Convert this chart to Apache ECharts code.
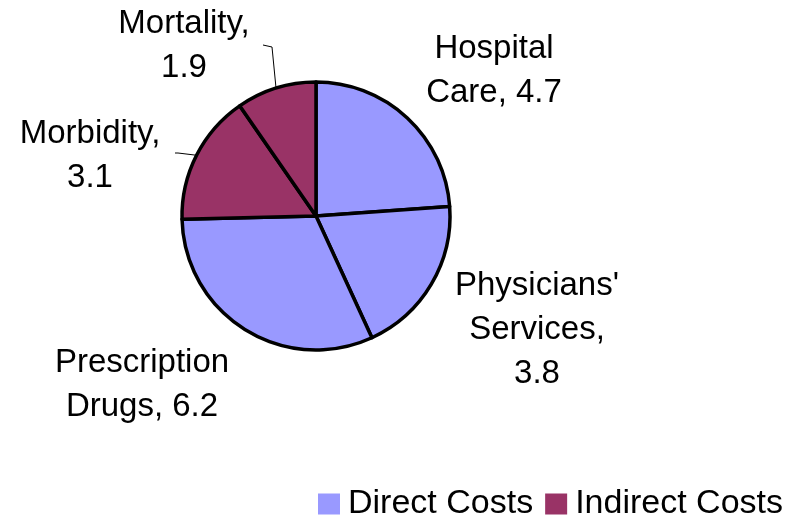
<!DOCTYPE html>
<html>
<head>
<meta charset="utf-8">
<script src="https://cdn.jsdelivr.net/npm/echarts@6/dist/echarts.min.js"></script>
<style>
    html, body { margin: 0; padding: 0; background: #fff; }
    #chart { width: 789px; height: 531px; }
</style>
</head>
<body>
<div id="chart"></div>
<script>
(function () {
    // 数据
    const categories = ['Hospital Care', "Physicians' Services", 'Prescription Drugs', 'Morbidity', 'Mortality'];
    const labelTexts = ['Hospital\nCare, 4.7', "Physicians'\nServices,\n3.8", 'Prescription\nDrugs, 6.2', 'Morbidity,\n3.1', 'Mortality,\n1.9'];
    const values = [4.7, 3.8, 6.2, 3.1, 1.9];
    const groups = ['Direct Costs', 'Direct Costs', 'Direct Costs', 'Indirect Costs', 'Indirect Costs'];
    const legendNames = ['Direct Costs', 'Indirect Costs'];

    const groupColor = {
        'Direct Costs': '#9999ff',
        'Indirect Costs': '#993366'
    };
    const font = 'Liberation Sans, Arial, sans-serif';

    // 标签位置（文字块中心）
    const labelPos = [[494, 71], [537, 330], [142, 385], [90, 156], [184, 46]];
    // 引导线的末端
    const lineEnds = [null, null, null, [[178, 153], [175, 153]], [[272, 47], [263, 45]]];

    const chart = echarts.init(document.getElementById('chart'));

    const pieData = values.map((v, i) => ({
        name: groups[i],
        value: v,
        itemStyle: { color: groupColor[groups[i]] },
        labelLine: { show: lineEnds[i] != null }
    }));

    chart.setOption({
        animation: false,
        legend: {
            data: legendNames,
            right: 1,
            bottom: 5,
            icon: 'rect',
            itemWidth: 22,
            itemHeight: 21,
            itemGap: 12,
            selectedMode: false,
            itemStyle: {
                borderWidth: 0
            },
            textStyle: {
                fontFamily: font,
                fontSize: 34,
                color: '#000',
                padding: [0, 0, 0, 3]
            }
        },
        series: [{
            type: 'pie',
            center: [316, 216],
            radius: 134,
            startAngle: 90,
            clockwise: true,
            avoidLabelOverlap: false,
            emphasis: { disabled: true },
            itemStyle: {
                borderColor: '#000',
                borderWidth: 3.5
            },
            label: {
                show: true,
                position: 'outside',
                fontFamily: font,
                fontSize: 33,
                lineHeight: 44,
                color: '#000',
                align: 'center',
                formatter: (p) => labelTexts[p.dataIndex]
            },
            labelLine: {
                length: 10,
                length2: 10,
                lineStyle: { color: '#000', width: 1 }
            },
            labelLayout: (params) => {
                const i = params.dataIndex;
                const res = {
                    x: labelPos[i][0],
                    y: labelPos[i][1],
                    align: 'center',
                    verticalAlign: 'middle'
                };
                if (lineEnds[i] && params.labelLinePoints) {
                    res.labelLinePoints = [params.labelLinePoints[0], lineEnds[i][0], lineEnds[i][1]];
                }
                return res;
            },
            data: pieData
        }]
    });
})();
</script>
</body>
</html>
